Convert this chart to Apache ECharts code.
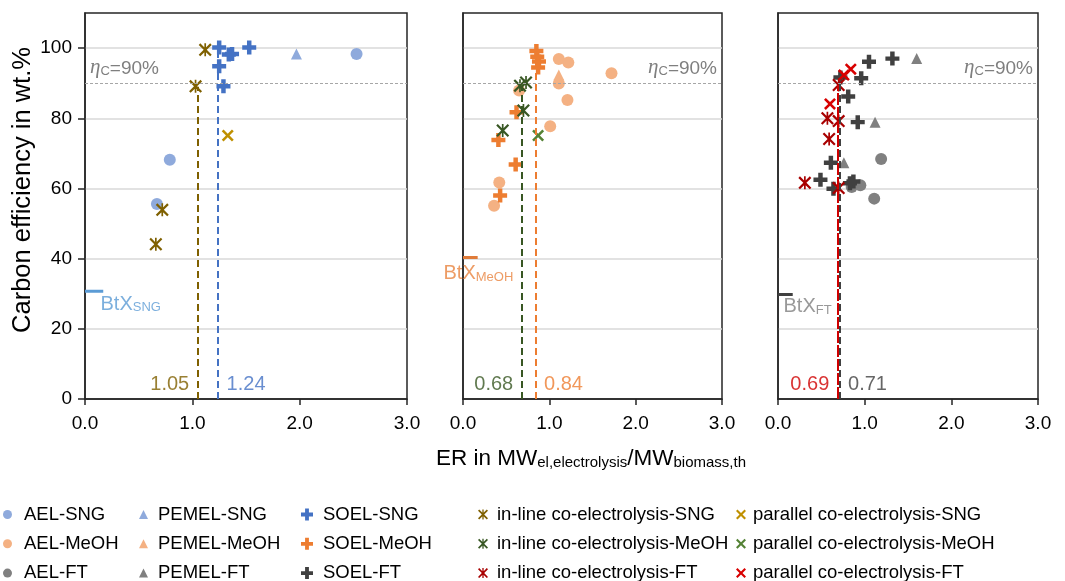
<!DOCTYPE html>
<html><head><meta charset="utf-8">
<script src="https://cdn.jsdelivr.net/npm/echarts@6/dist/echarts.min.js"></script>
<style>html,body{margin:0;padding:0;background:#fff}#c{width:1065px;height:581px}</style>
</head><body><div id="c"></div>
<script>
// ---------- data ----------
const xTicks = [0, 1, 2, 3];
const yTicks = [0, 20, 40, 60, 80, 100];
const panels = ['SNG', 'MeOH', 'FT'];

// SNG panel
const aelSNG = [[2.53, 98.3], [0.79, 68.2], [0.67, 55.6]];
const pemelSNG = [[1.97, 98.3]];
const soelSNG = [[1.25, 100.2], [1.34, 98.2], [1.37, 98.3], [1.53, 100.2], [1.25, 94.8], [1.29, 89.1]];
const inlineSNG = [[1.12, 99.5], [1.03, 89.1], [0.72, 53.9], [0.66, 44.1]];
const parallelSNG = [[1.33, 75.1]];

// MeOH panel
const aelMeOH = [[1.11, 96.9], [1.22, 95.9], [1.72, 92.8], [1.11, 89.9], [1.21, 85.2], [1.01, 77.7], [0.65, 87.9], [0.42, 61.7], [0.36, 55.1]];
const pemelMeOH = [[1.11, 92.3]];
const soelMeOH = [[0.85, 99.2], [0.86, 97.5], [0.88, 96.2], [0.87, 94.5], [0.62, 81.7], [0.41, 73.8], [0.61, 66.8], [0.43, 58.0]];
const inlineMeOH = [[0.73, 90.2], [0.66, 89.3], [0.70, 82.2], [0.46, 76.5]];
const parallelMeOH = [[0.87, 75.1]];

// FT panel
const aelFT = [[1.19, 68.4], [0.85, 60.4], [0.95, 60.9], [1.11, 57.1]];
const pemelFT = [[1.60, 97.0], [1.12, 78.9], [0.76, 67.3]];
const soelFT = [[1.05, 96.1], [1.32, 97.0], [0.96, 91.4], [0.72, 91.6], [0.81, 86.2], [0.92, 78.9], [0.61, 67.3], [0.49, 62.5], [0.87, 62.0], [0.83, 61.5], [0.64, 59.9]];
const inlineFT = [[0.70, 89.5], [0.57, 80.0], [0.70, 79.2], [0.59, 74.1], [0.31, 61.6], [0.70, 60.1]];
const parallelFT = [[0.84, 94.0], [0.76, 92.3], [0.60, 84.1]];

// mean ER lines (value, top of line)
const erSNG = [1.05, 1.24];   const erSNGTop = [89, 100];
const erMeOH = [0.68, 0.84];  const erMeOHTop = [89, 96];
const erFT = [0.69, 0.71];    const erFTTop = [89.5, 91];

// BtX reference carbon efficiency
const btx = [30.7, 40.3, 29.8];
const etaC = 90;

// ---------- styling ----------
const FONT = '"Liberation Sans", Arial, Helvetica, sans-serif';
const SYM = {
  circle: 'circle',
  triangle: 'triangle',
  plus: 'path://M3.4,0H6.6V3.4H10V6.6H6.6V10H3.4V6.6H0V3.4H3.4Z',
  cross: 'path://M0,1.5L1.5,0L5,3.5L8.5,0L10,1.5L6.5,5L10,8.5L8.5,10L5,6.5L1.5,10L0,8.5L3.5,5Z',
  star: 'path://M0,1.2L1.2,0L5,3.8L8.8,0L10,1.2L6.2,5L10,8.8L8.8,10L5,6.2L1.2,10L0,8.8L3.8,5Z M4.35,0H5.65V10H4.35Z'
};
const COL = {
  aelSNG: '#8faadc', soelSNG: '#4472c4', inlineSNG: '#7f6000', parSNG: '#bf9000',
  aelMeOH: '#f4b183', soelMeOH: '#ed7d31', inlineMeOH: '#385723', parMeOH: '#548235',
  aelFT: '#808080', soelFT: '#404040', inlineFT: '#a80000', parFT: '#d80000'
};
const grids = [
  { left: 85, top: 13, width: 322, height: 386 },
  { left: 463, top: 13, width: 259, height: 386 },
  { left: 778, top: 13, width: 260, height: 386 }
];

function pts(name, data, p, sym, size, color, z) {
  return { name, type: 'scatter', xAxisIndex: p, yAxisIndex: p, data, symbol: SYM[sym], symbolSize: size,
    itemStyle: { color, opacity: 1 }, z: z || 3, silent: true };
}

const etaLabel = (pos, dist) => ({
  show: true, position: pos, distance: dist,
  formatter: '{e|η}{s|C}{t|=90%}',
  rich: {
    e: { fontFamily: '"Liberation Serif", "DejaVu Serif", serif', fontStyle: 'italic', fontSize: 21, color: '#7f7f7f', verticalAlign: 'bottom', lineHeight: 22 },
    s: { fontFamily: FONT, fontSize: 13, color: '#7f7f7f', verticalAlign: 'bottom', lineHeight: 18 },
    t: { fontFamily: FONT, fontSize: 19, color: '#7f7f7f', verticalAlign: 'bottom', lineHeight: 22 }
  }
});

function refSeries(p, lineColor, labelColor, sub, labelOffset, etaPos, etaDist) {
  return [
    { type: 'line', xAxisIndex: p, yAxisIndex: p, silent: true, symbol: 'none', z: 2,
      data: [[0, btx[p]], [0.17, btx[p]]],
      lineStyle: { color: lineColor, width: 3 },
      markLine: { silent: true, symbol: 'none', animation: false,
        lineStyle: { color: '#a6a6a6', type: [3, 2], width: 1 },
        label: etaLabel(etaPos, etaDist),
        data: [{ yAxis: etaC }] } },
    { type: 'scatter', xAxisIndex: p, yAxisIndex: p, silent: true, symbolSize: 1, z: 5,
      itemStyle: { color: 'rgba(0,0,0,0)' },
      data: [{ value: [0, btx[p]], label: { show: true, position: 'right', distance: 0, offset: labelOffset,
        formatter: '{b|BtX}{s|' + sub + '}',
        rich: {
          b: { fontFamily: FONT, fontSize: 20, color: labelColor, verticalAlign: 'bottom', lineHeight: 22 },
          s: { fontFamily: FONT, fontSize: 13, color: labelColor, verticalAlign: 'bottom', lineHeight: 18 }
        } } }] }
  ];
}

function erSeries(p, values, tops, colors, sides, dashes) {
  return { type: 'scatter', xAxisIndex: p, yAxisIndex: p, silent: true, symbolSize: 1, z: 6,
    itemStyle: { color: 'rgba(0,0,0,0)' },
    data: values.map((v, i) => ({ value: [v, 0], label: { show: true, position: sides[i], distance: 8, offset: [0, -15],
      formatter: v.toFixed(2), color: colors[i], fontSize: 20, fontFamily: FONT } })),
    markLine: { silent: true, symbol: 'none', animation: false, label: { show: false },
      data: values.map((v, i) => [
        { coord: [v, 0], lineStyle: { color: colors[i], type: dashes[i], width: 2 } },
        { coord: [v, tops[i]] }]) } };
}

const xAxes = grids.map((g, i) => ({
  type: 'value', gridIndex: i, min: 0, max: 3, interval: 1,
  axisLine: { show: true, lineStyle: { color: '#262626', width: 1.5 } },
  axisTick: { show: true, length: 6, lineStyle: { color: '#262626', width: 1.5 } },
  axisLabel: { fontSize: 19, fontFamily: FONT, color: '#000', margin: 15, formatter: v => v.toFixed(1) },
  splitLine: { show: false }
}));
const yAxes = grids.map((g, i) => ({
  type: 'value', gridIndex: i, min: 0, max: 110, interval: 20,
  axisLine: { show: true, lineStyle: { color: '#262626', width: 1.5 } },
  axisTick: { show: i === 0, length: 7, customValues: yTicks, lineStyle: { color: '#262626', width: 1.5 } },
  axisLabel: { show: i === 0, fontSize: 19, fontFamily: FONT, color: '#000', margin: 13, customValues: yTicks },
  splitLine: { show: true, showMinLine: false, lineStyle: { color: '#d9d9d9', width: 1.5 } }
}));

const legendCols = [
  ['AEL-SNG', 'AEL-MeOH', 'AEL-FT'],
  ['PEMEL-SNG', 'PEMEL-MeOH', 'PEMEL-FT'],
  ['SOEL-SNG', 'SOEL-MeOH', 'SOEL-FT'],
  ['in-line co-electrolysis-SNG', 'in-line co-electrolysis-MeOH', 'in-line co-electrolysis-FT'],
  ['parallel co-electrolysis-SNG', 'parallel co-electrolysis-MeOH', 'parallel co-electrolysis-FT']
];
const legendLeft = [3, 139, 301, 478, 736];
const legendIcon = [9, 9, 12, 10, 10];
const legendPad = [7, 5, 5, 4, 2];

const series = [
  pts('AEL-SNG', aelSNG, 0, 'circle', 12, COL.aelSNG),
  pts('PEMEL-SNG', pemelSNG, 0, 'triangle', 11, COL.aelSNG),
  pts('SOEL-SNG', soelSNG, 0, 'plus', 14, COL.soelSNG),
  pts('in-line co-electrolysis-SNG', inlineSNG, 0, 'star', 13, COL.inlineSNG),
  pts('parallel co-electrolysis-SNG', parallelSNG, 0, 'cross', 12, COL.parSNG),
  pts('AEL-MeOH', aelMeOH, 1, 'circle', 12, COL.aelMeOH),
  pts('PEMEL-MeOH', pemelMeOH, 1, 'triangle', 11, COL.aelMeOH),
  pts('SOEL-MeOH', soelMeOH, 1, 'plus', 14, COL.soelMeOH),
  pts('in-line co-electrolysis-MeOH', inlineMeOH, 1, 'star', 13, COL.inlineMeOH),
  pts('parallel co-electrolysis-MeOH', parallelMeOH, 1, 'cross', 12, COL.parMeOH),
  pts('AEL-FT', aelFT, 2, 'circle', 12, COL.aelFT),
  pts('PEMEL-FT', pemelFT, 2, 'triangle', 11, COL.aelFT),
  pts('SOEL-FT', soelFT, 2, 'plus', 14, COL.soelFT),
  pts('in-line co-electrolysis-FT', inlineFT, 2, 'star', 13, COL.inlineFT, 4),
  pts('parallel co-electrolysis-FT', parallelFT, 2, 'cross', 12, COL.parFT, 4),
  ...refSeries(0, '#5b9bd5', '#5b9bd5', 'SNG', [15, 12], 'insideStartTop', 5),
  ...refSeries(1, '#e07b39', '#e8833f', 'MeOH', [-20, 15], 'insideEndTop', 5),
  ...refSeries(2, '#404040', '#808080', 'FT', [5, 11], 'insideEndTop', 5),
  erSeries(0, erSNG, erSNGTop, ['#7f6000', '#4472c4'], ['left', 'right'], [[7, 4], [7, 4]]),
  erSeries(1, erMeOH, erMeOHTop, ['#385723', '#ed7d31'], ['left', 'right'], [[7, 4], [7, 4]]),
  erSeries(2, erFT, erFTTop, ['#d00000', '#404040'], ['left', 'right'], [[12, 2], [7, 4]])
];

const option = {
  animation: false,
  backgroundColor: '#fff',
  grid: grids.map(g => Object.assign({ show: true, borderColor: '#262626', borderWidth: 1.5, containLabel: false }, g)),
  xAxis: xAxes,
  yAxis: yAxes,
  legend: legendCols.map((d, i) => ({
    data: d, orient: 'vertical', left: legendLeft[i], top: 505, padding: 0, height: 80,
    itemWidth: legendIcon[i], itemHeight: legendIcon[i], itemGap: 10.3,
    selectedMode: false,
    textStyle: { fontSize: 18.5, fontFamily: FONT, color: '#000', lineHeight: 18, padding: [0, 0, 0, legendPad[i]] }
  })),
  graphic: [
    { type: 'text', left: 436, top: 447, silent: true,
      style: { text: '{a|ER in MW}{s|el,electrolysis}{a|/MW}{s|biomass,th}',
        rich: {
          a: { fontFamily: FONT, fontSize: 22.5, fill: '#000', verticalAlign: 'bottom', lineHeight: 24 },
          s: { fontFamily: FONT, fontSize: 15, fill: '#000', verticalAlign: 'bottom', lineHeight: 18 }
        } } },
    { type: 'text', x: 23, y: 190, rotation: Math.PI / 2, silent: true,
      style: { text: 'Carbon efficiency in wt.%', fontFamily: FONT, fontSize: 25.5, fill: '#000', align: 'center', verticalAlign: 'middle' } }
  ],
  series
};

const chart = echarts.init(document.getElementById('c'), null, { renderer: 'canvas' });
chart.setOption(option);
</script>
</body></html>
